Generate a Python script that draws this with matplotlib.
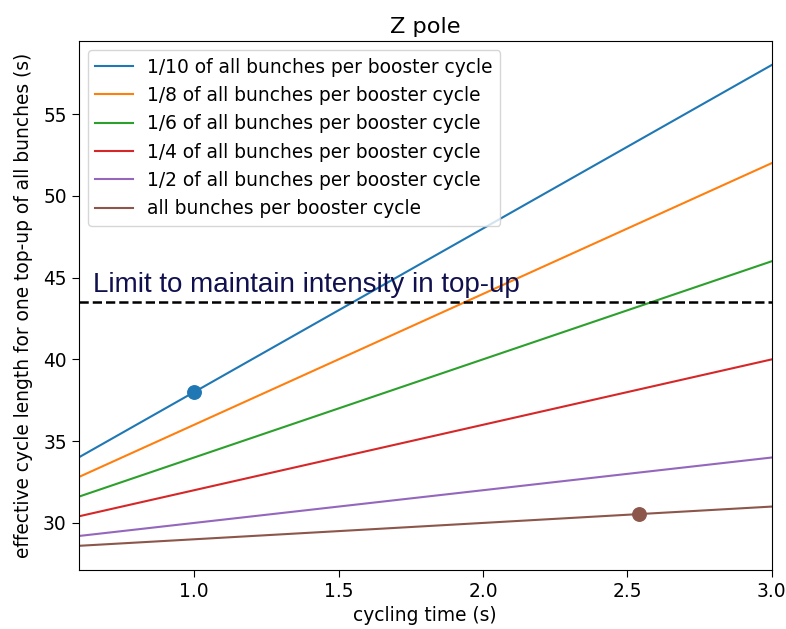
import numpy as np
import matplotlib.pyplot as plt

# cycling time range (s)
t = [0.6, 3.0]

# effective cycle length for one top-up of all bunches (s), at both ends of the range
y_10 = [34.0, 58.0]
y_8 = [32.8, 52.0]
y_6 = [31.6, 46.0]
y_4 = [30.4, 40.0]
y_2 = [29.2, 34.0]
y_1 = [28.6, 31.0]

labels = ["1/10 of all bunches per booster cycle",
          "1/8 of all bunches per booster cycle",
          "1/6 of all bunches per booster cycle",
          "1/4 of all bunches per booster cycle",
          "1/2 of all bunches per booster cycle",
          "all bunches per booster cycle"]

# working points
pt_blue = (1.0, 38.0)
pt_brown = (2.54, 30.54)

limit = 43.5

plt.rcParams['font.size'] = 13.4
plt.rcParams['xtick.major.size'] = 5
plt.rcParams['ytick.major.size'] = 5

fig = plt.figure(figsize=(7.86, 6.29), dpi=100)
plt.subplots_adjust(left=0.1, right=0.982, bottom=0.094, top=0.935)

for ys, lab in zip([y_10, y_8, y_6, y_4, y_2, y_1], labels):
    plt.plot(t, ys, label=lab)

plt.plot(*pt_blue, 'o', color='C0', markersize=9.7)
plt.plot(*pt_brown, 'o', color='C5', markersize=9.7)

plt.axhline(limit, color='black', linestyle='--', linewidth=1.8)
plt.text(0.65, 44.1, "Limit to maintain intensity in top-up",
         fontsize=20, color='#10104f', family='Liberation Sans')

plt.xlim(0.6, 3.0)
plt.xlabel("cycling time (s)")
plt.ylabel("effective cycle length for one top-up of all bunches (s)", labelpad=7)
plt.title("Z pole")
plt.legend(loc='upper left')
plt.savefig("out.png")
